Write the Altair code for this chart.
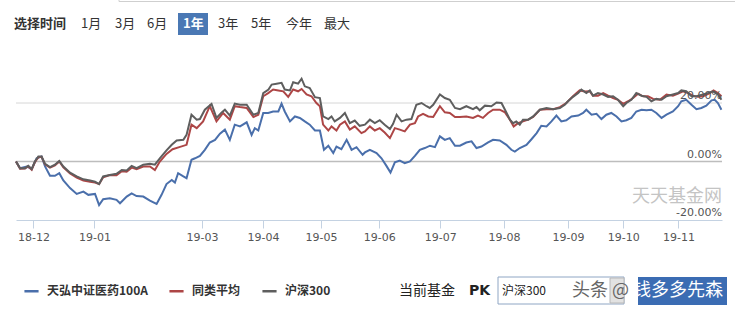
import altair as alt
import pandas as pd

# ---------------- data (cumulative return, %, by trading-day index) ----------------
SERIES = ["天弘中证医药100A", "同类平均", "沪深300"]
COLORS = ["#4a6fab", "#ad4646", "#5e5e5e"]

blue_day = [0, 1.4, 3.7, 5.4, 7.1, 8.8, 10.0, 11.7, 13.4, 14.9, 16.3, 18.6, 20.9, 23.2, 24.9, 27.2,
            28.6, 30.0, 32.3, 34.6, 35.8, 38.1, 39.8, 41.5, 43.8, 46.1, 48.4, 50.1, 51.8, 53.6, 54.7,
            55.8, 57.6, 58.7, 60.4, 61.6, 63.3, 65.0, 66.7, 68.5, 70.2, 71.9, 73.6, 75.3, 77.1, 79.4,
            81.1, 82.2, 83.4, 85.1, 86.8, 88.5, 90.3, 91.4, 92.5, 94.3, 96.0, 97.7, 99.4, 101.1, 102.9,
            104.6, 106.0, 107.5, 109.2, 110.3, 112.0, 113.8, 115.5, 117.2, 119.3, 120.1, 121.8, 124.1,
            125.8, 127.5, 128.9, 130.4, 132.1, 133.8, 135.6, 137.3, 139.0, 140.7, 142.5, 144.2, 145.9,
            147.6, 149.3, 151.1, 152.8, 155.0, 156.8, 158.5, 160.2, 162.5, 164.2, 166.5, 168.8, 170.5,
            171.7, 173.4, 175.7, 177.5, 179.2, 180.8, 182.6, 184.3, 186.0, 187.7, 189.4, 191.2, 193.5,
            195.2, 196.3, 198.1, 199.8, 201.5, 203.2, 204.9, 206.7, 208.4, 210.1, 211.8, 213.5, 215.3,
            217.0, 218.7, 220.4, 222.2, 223.9, 226.1, 227.9, 229.0, 230.7, 232.5, 234.2, 235.9, 237.6,
            239.4, 240.5, 241.6, 242.8]
blue_val = [0, -2.3, -1.7, -2.6, 1.1, 1.7, -1.7, -4.9, -4.9, -4.0, -6.5, -9.1, -11.1, -10.3, -11.4, -11.1,
            -14.9, -12.9, -12.6, -13.1, -14.3, -12.0, -10.9, -11.8, -12.0, -13.4, -14.5, -11.4, -7.7, -6.3, -7.2,
            -4.0, -5.1, -5.7, 0.6, 1.1, 1.9, 4.0, 6.5, 7.4, 9.5, 10.9, 7.4, 12.6, 12.0, 13.4,
            9.1, 11.4, 10.6, 16.6, 16.6, 17.1, 17.1, 19.8, 17.1, 13.7, 15.4, 14.9, 13.7, 12.6, 10.6,
            10.6, 4.0, 5.4, 2.9, 5.1, 4.2, 7.4, 4.0, 4.9, 2.3, 3.1, 4.0, 2.9,
            1.1, -1.5, -3.8, -0.3, 0.3, -0.6, 0.0, 1.9, 4.0, 4.6, 5.4, 4.9, 8.6,
            7.4, 8.0, 5.4, 5.4, 6.5, 6.9, 4.6, 5.1, 6.5, 7.4, 7.2, 5.7, 4.0,
            3.4, 4.6, 5.7, 7.7, 9.7, 12.2, 12.0, 13.7, 15.7, 13.7, 14.1, 15.4, 15.7,
            16.6, 17.7, 16.0, 16.3, 14.5, 16.0, 16.6, 15.4, 13.7, 14.1, 14.9, 17.1, 17.7,
            17.5, 17.7, 16.6, 14.9, 16.0, 17.1, 18.9, 20.6, 21.1, 19.4, 17.9, 18.3, 19.1,
            20.9, 21.1, 20.0, 17.7]

red_day = [0, 1.4, 3.1, 4.2, 5.4, 6.5, 7.7, 8.8, 10.0, 11.7, 13.4, 14.9, 16.3, 18.6, 20.9, 23.2, 25.5,
           27.2, 28.6, 30.0, 32.3, 34.6, 36.4, 38.1, 39.8, 41.5, 43.8, 46.1, 47.8, 49.5, 51.8, 53.9,
           56.2, 58.7, 60.4, 62.2, 64.4, 66.7, 69.0, 71.3, 73.6, 75.3, 77.1, 79.4, 81.7, 83.4, 85.1,
           86.8, 88.5, 90.3, 92.0, 93.7, 95.4, 97.1, 98.3, 100.0, 101.7, 103.4, 104.6, 105.7, 107.5,
           108.6, 110.3, 111.5, 113.2, 114.9, 116.6, 118.9, 120.1, 121.8, 123.5, 125.2, 126.9, 128.7,
           130.4, 132.1, 133.8, 135.6, 137.3, 138.4, 140.1, 141.9, 143.6, 145.9, 147.6, 149.3, 151.1,
           152.8, 155.0, 157.3, 159.0, 160.7, 162.5, 164.2, 166.5, 168.3, 170.0, 171.3, 172.8, 174.5,
           176.3, 178.0, 180.3, 182.6, 184.9, 187.2, 189.4, 191.7, 194.0, 195.8, 197.5, 198.6, 200.3,
           202.1, 203.8, 205.5, 207.2, 209.0, 210.7, 212.4, 214.1, 215.8, 217.5, 219.3, 221.6, 223.9,
           226.1, 227.9, 229.6, 231.3, 233.0, 234.7, 236.5, 238.8, 240.1, 241.6, 242.8]
red_val = [0, -2.5, -2.4, -1.6, -2.8, -0.2, 1.5, 1.6, -1.0, -2.1, -1.3, 0.0, -2.0, -4.1, -5.5, -6.5, -6.9,
           -7.2, -7.7, -5.4, -4.6, -4.7, -3.3, -3.5, -2.1, -2.6, -1.7, -1.7, -2.9, 0.0, 2.6, 4.2,
           4.9, 5.7, 12.6, 11.4, 13.7, 18.9, 13.7, 16.6, 14.3, 18.9, 18.6, 18.3, 15.2, 16.0, 22.3,
           23.4, 24.6, 24.3, 24.0, 22.1, 24.6, 24.0, 24.8, 22.9, 22.3, 20.0, 18.9, 12.6, 10.6,
           12.0, 10.6, 12.6, 13.7, 10.9, 12.0, 9.7, 10.3, 12.0, 10.6, 11.4, 9.9, 8.0,
           11.4, 10.9, 10.3, 12.6, 13.1, 15.4, 16.3, 15.4, 15.2, 18.9, 16.8, 16.6, 15.2,
           15.2, 15.4, 14.9, 15.7, 14.9, 16.6, 17.7, 17.7, 16.8, 14.3, 12.0, 13.1, 13.7,
           14.3, 15.2, 17.7, 17.9, 17.9, 18.6, 20.0, 22.3, 24.3, 23.9, 24.0, 22.5, 22.5,
           23.4, 22.5, 21.7, 21.1, 19.7, 20.6, 21.7, 23.2, 22.3, 22.3, 21.4, 21.1, 22.9,
           22.5, 23.2, 24.0, 23.4, 22.5, 22.1, 22.3, 23.4, 24.3, 23.4, 22.3]

gray_day = [0, 1.4, 3.1, 4.2, 5.4, 6.5, 7.7, 8.8, 10.0, 11.7, 13.4, 14.9, 16.3, 18.6, 20.9, 23.2, 25.5,
            27.2, 28.6, 30.0, 32.3, 34.6, 36.4, 38.1, 39.8, 41.5, 43.8, 46.1, 47.8, 49.5, 51.8, 53.6,
            55.3, 57.6, 58.7, 60.4, 62.2, 63.3, 65.0, 67.3, 69.0, 70.8, 71.9, 73.6, 75.3, 77.1, 79.4,
            81.7, 83.4, 85.1, 86.9, 88.0, 89.7, 91.4, 92.5, 94.3, 95.4, 97.1, 98.3, 99.4, 101.1, 102.9,
            104.6, 105.7, 107.5, 108.6, 109.7, 111.5, 113.2, 114.9, 116.6, 118.3, 120.1, 121.8, 123.5,
            125.2, 126.9, 128.7, 129.8, 131.0, 132.7, 134.4, 136.1, 137.8, 139.6, 141.3, 142.4, 143.6,
            145.9, 147.6, 149.3, 151.1, 152.8, 155.0, 157.3, 158.5, 159.6, 161.4, 163.6, 165.4, 167.1,
            168.3, 170.0, 171.1, 172.2, 173.4, 174.5, 176.3, 178.0, 180.3, 182.6, 184.9, 187.2, 188.9,
            190.0, 191.7, 193.5, 194.6, 196.3, 197.5, 198.6, 200.3, 202.1, 203.8, 205.5, 207.2, 209.0,
            210.1, 211.8, 213.5, 215.3, 217.0, 218.7, 220.4, 222.2, 223.9, 226.1, 227.9, 229.0, 230.7,
            232.5, 234.2, 236.5, 238.2, 239.9, 241.6, 242.8]
gray_val = [0, -2.3, -2.3, -1.5, -2.6, 0.0, 1.7, 1.7, -0.8, -1.9, -1.1, 0.2, -1.7, -3.8, -5.1, -6.1, -6.5,
            -6.9, -7.7, -5.1, -4.6, -4.2, -2.9, -3.1, -1.5, -2.3, -1.1, -0.8, -1.1, 1.1, 3.8, 5.7,
            7.2, 7.4, 9.1, 16.0, 14.3, 14.5, 17.7, 19.7, 14.9, 16.8, 17.7, 15.7, 19.8, 19.4, 19.4,
            16.0, 16.6, 23.4, 24.6, 26.3, 26.6, 26.9, 24.6, 24.3, 27.1, 26.6, 28.3, 25.7, 25.1, 22.0,
            21.7, 15.4, 14.5, 15.4, 13.7, 14.9, 16.6, 13.1, 14.0, 12.2, 12.6, 14.3, 13.1,
            14.1, 12.6, 11.1, 12.9, 16.0, 13.7, 14.3, 14.5, 19.4, 20.0, 18.9, 18.3, 19.4,
            22.9, 21.7, 21.1, 18.3, 17.9, 18.9, 17.9, 18.6, 17.5, 19.1, 18.9, 20.2, 20.0,
            17.7, 14.3, 13.1, 13.7, 12.6, 14.3, 14.3, 15.4, 17.7, 18.3, 17.9, 18.3, 19.4,
            20.6, 22.1, 23.4, 24.6, 23.4, 24.3, 22.5, 23.4, 22.9, 22.1, 22.3, 21.1, 18.9,
            20.0, 21.1, 23.4, 22.5, 22.1, 20.6, 21.4, 21.1, 22.3, 22.9, 23.4, 24.3, 24.0,
            22.3, 22.3, 22.9, 23.4, 24.0, 22.9, 21.1]

tick_days = [6, 27, 64, 85, 105, 125, 146, 168, 190, 209, 228]
tick_labels = ["18-12", "19-01", "19-03", "19-04", "19-05", "19-06", "19-07", "19-08", "19-09", "19-10", "19-11"]

pct_vals = [20, 0, -20]
pct_text = ["20.00%", "0.00%", "-20.00%"]

periods = ["1月", "3月", "6月", "1年", "3年", "5年", "今年", "最大"]

# ---------------- build ----------------
rows = []
for name, d, v in zip(SERIES, [blue_day, red_day, gray_day], [blue_val, red_val, gray_val]):
    rows += [{"day": a, "value": b, "series": name} for a, b in zip(d, v)]
df = pd.DataFrame(rows)

W, H = 706, 175.5
L, T = 16, 44.5
CJK = "Noto Sans CJK SC"
LAT = "DejaVu Sans"

xs = alt.Scale(domain=[0, 243], nice=False, zero=False)
ys = alt.Scale(domain=[-20, 40], nice=False, zero=False)

label_expr = ("[" + ",".join(f"'{s}'" for s in tick_labels) + "][indexof(["
              + ",".join(str(t) for t in tick_days) + "], datum.value)]")

one = pd.DataFrame({"k": [0]})

grid20 = alt.Chart(pd.DataFrame({"v": [pct_vals[0]]})).mark_rule(color="#d6d6d6", strokeWidth=1).encode(
    y=alt.Y("v:Q", scale=ys, axis=None))
grid0 = alt.Chart(pd.DataFrame({"v": [pct_vals[1]]})).mark_rule(color="#bdbdbd", strokeWidth=1.6).encode(
    y=alt.Y("v:Q", scale=ys, axis=None))

legend = alt.Legend(title=None, orient="none", legendX=7, legendY=238, direction="horizontal",
                    symbolType="stroke", symbolStrokeWidth=2.5, symbolSize=200,
                    labelFont=CJK, labelFontSize=12, labelFontWeight="bold", labelColor="#333",
                    columnPadding=16, labelOffset=7)

lines = []
for name in SERIES:
    lines.append(
        alt.Chart(df).transform_filter(alt.datum.series == name).mark_line(strokeWidth=2).encode(
            x=alt.X("day:Q", scale=xs,
                    axis=alt.Axis(title=None, values=tick_days, labelExpr=label_expr, grid=False,
                                  domainColor="#c4d2e2", tickColor="#c4d2e2", tickSize=8,
                                  labelFont=LAT, labelFontSize=11, labelColor="#555",
                                  labelPadding=3, labelFlush=False)),
            y=alt.Y("value:Q", scale=ys, axis=None),
            color=alt.Color("series:N", scale=alt.Scale(domain=SERIES, range=COLORS), legend=legend),
        )
    )

pct_df = pd.DataFrame({"v": pct_vals, "t": pct_text})
pct_layer = alt.Chart(pct_df).mark_text(align="right", baseline="bottom", dy=-2, font=LAT,
                                        fontSize=11, color="#555").encode(
    x=alt.value(W), y=alt.Y("v:Q", scale=ys, axis=None), text="t:N")


def txt(s, x, y, size=13, weight="normal", color="#333", align="left", font=CJK):
    return alt.Chart(one).mark_text(text=s, align=align, baseline="middle", fontSize=size,
                                    fontWeight=weight, color=color, font=font).encode(
        x=alt.value(x - L), y=alt.value(y - T))


def box(x1, x2, y1, y2, fill, stroke=None):
    kw = {"fill": fill}
    if stroke:
        kw["stroke"] = stroke
        kw["strokeWidth"] = 1
    return alt.Chart(one).mark_rect(**kw).encode(
        x=alt.value(x1 - L), x2=alt.value(x2 - L), y=alt.value(y1 - T), y2=alt.value(y2 - T))


deco = []
# top frame line
deco.append(alt.Chart(one).mark_rule(color="#cfcfcf").encode(
    x=alt.value(119 - L), x2=alt.value(735 - L), y=alt.value(1.5 - T)))
deco.append(alt.Chart(one).mark_rule(color="#cfcfcf").encode(
    x=alt.value(119 - L), y=alt.value(0 - T), y2=alt.value(1.5 - T)))
# period selector
deco.append(txt("选择时间", 14, 24, weight="bold"))
deco.append(box(178, 208, 13, 35, "#4a78b4"))
period_x = [81, 115, 147, 183, 218, 251, 286, 324]
for p, px in zip(periods, period_x):
    if p == "1年":
        deco.append(txt(p, px, 24, color="white", weight="bold"))
    else:
        deco.append(txt(p, px, 24, color="#333"))
# watermark
deco.append(txt("天天基金网", 632, 197, size=18, color="#c4c4c4"))
# bottom controls
deco.append(txt("当前基金", 399, 291, size=14, color="#222"))
deco.append(txt("PK", 469, 291, size=14, weight="bold", color="#222", font=LAT))
deco.append(box(498, 624, 277, 304, "white", "#8fa6c4"))
deco.append(box(610, 624, 278, 303, "#e2e2e2", "#b8b8b8"))
deco.append(txt("沪深300", 502, 291, size=12, color="#222"))
deco.append(box(638, 727, 277, 305, "#3b6cb3"))
deco.append(txt("头条 @", 572, 291, size=18, color="#666"))
deco.append(txt("钱多多先森", 633, 291, size=18, color="white"))

chart = alt.layer(grid20, grid0, *lines, pct_layer, *deco).properties(
    width=W, height=H,
    padding={"left": L, "top": T, "right": 735 - L - W, "bottom": 311 - T - H},
    autosize=alt.AutoSizeParams(type="none"),
    background="white",
).configure_view(stroke=None)

chart.save("out.html", embed_options={"renderer": "svg", "actions": False})
